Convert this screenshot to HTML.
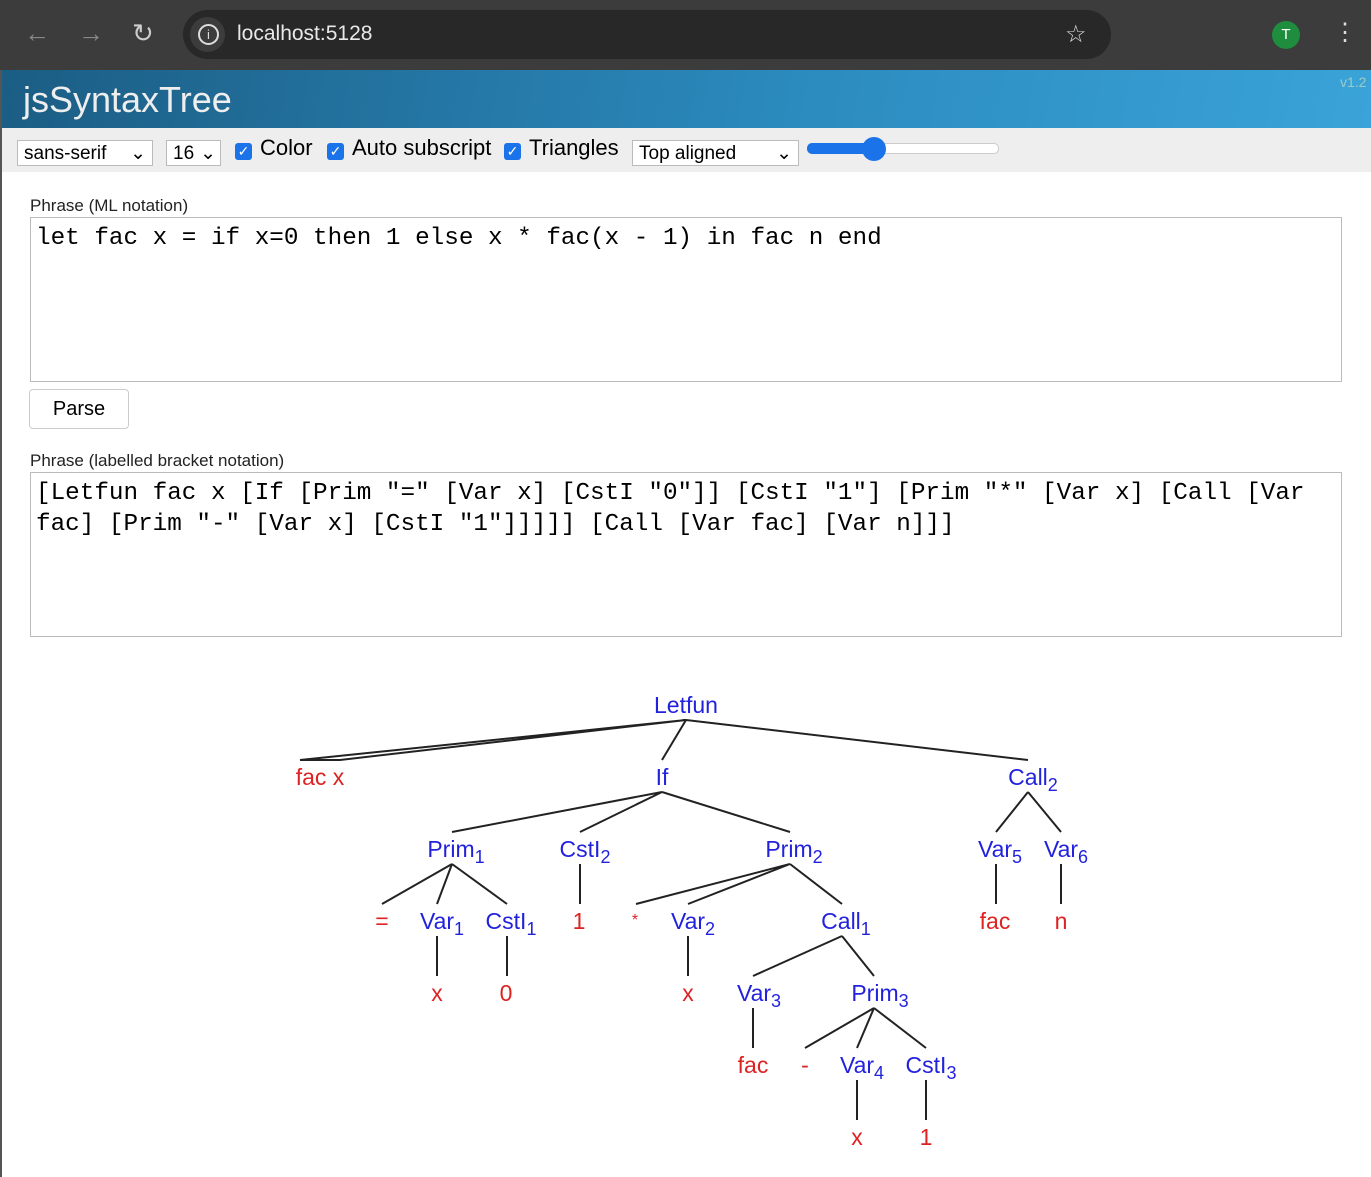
<!DOCTYPE html>
<html><head><meta charset="utf-8"><style>
body{margin:0;width:1371px;height:1177px;overflow:hidden;background:#fff;font-family:"Liberation Sans",sans-serif;position:relative}
.a{position:absolute}
.ta{position:absolute;left:30px;width:1312px;height:165px;border:1px solid #bbb;box-sizing:border-box;font-family:"Liberation Mono",monospace;font-size:24.3px;line-height:31px;padding:5px 5px;white-space:pre;color:#000}
.lbl{position:absolute;left:30px;font-size:17px;color:#222}
.cb{display:inline-block;width:17px;height:17px;background:#1a73e8;border-radius:3px;color:#fff;font-size:14px;line-height:17px;text-align:center;vertical-align:-1px;margin-right:8px}
.sel{position:absolute;top:140px;height:26px;border:1px solid #bbb;background:#fff;font-size:19px;line-height:26px;padding-left:6px;box-sizing:border-box}
</style></head><body>
<div class="a" style="left:0;top:0;width:1371px;height:70px;background:#3c3c3c"></div>
<div class="a" style="left:183px;top:10px;width:928px;height:49px;background:#282828;border-radius:25px"></div>
<div class="a" style="left:190px;top:17px;width:35px;height:35px;border-radius:18px;background:#3c3c3c"></div>
<div class="a" style="left:198px;top:24px;width:17px;height:17px;border:2px solid #ddd;border-radius:50%;color:#ddd;font-size:13px;text-align:center;line-height:17px;box-sizing:content-box">i</div>
<div class="a" style="left:237px;top:22px;color:#e8e8e8;font-size:21px">localhost:5128</div>
<div class="a" style="left:24px;top:18px;color:#888;font-size:26px">←</div>
<div class="a" style="left:78px;top:18px;color:#888;font-size:26px">→</div>
<div class="a" style="left:132px;top:18px;color:#ccc;font-size:26px">↻</div>
<div class="a" style="left:1065px;top:20px;color:#ddd;font-size:24px">☆</div>
<div class="a" style="left:1272px;top:21px;width:28px;height:28px;border-radius:50%;background:#1e8e3e;color:#fff;font-size:15px;text-align:center;line-height:28px">T</div>
<div class="a" style="left:1333px;top:18px;color:#ddd;font-size:24px">⋮</div>
<div class="a" style="left:0;top:70px;width:1371px;height:58px;background:linear-gradient(100deg,#1b5d84,#2c8cc0 60%,#3aa3d8)"></div>
<div class="a" style="left:23px;top:79px;color:#eee;font-size:36px">jsSyntaxTree</div>
<div class="a" style="left:1340px;top:74px;color:#9cc;font-size:14px">v1.2</div>
<div class="a" style="left:0;top:128px;width:1371px;height:44px;background:#eee"></div>
<div class="sel" style="left:17px;width:136px">sans-serif <span style="float:right;margin-right:6px">⌄</span></div>
<div class="sel" style="left:166px;width:55px">16<span style="float:right;margin-right:4px">⌄</span></div>
<div class="a" style="left:235px;top:135px;font-size:22px"><span class="cb">✓</span>Color</div>
<div class="a" style="left:327px;top:135px;font-size:22px"><span class="cb">✓</span>Auto subscript</div>
<div class="a" style="left:504px;top:135px;font-size:22px"><span class="cb">✓</span>Triangles</div>
<div class="sel" style="left:632px;width:167px;top:140px">Top aligned<span style="float:right;margin-right:6px">⌄</span></div>
<div class="a" style="left:807px;top:143px;width:190px;height:9px;border:1px solid #ccc;border-radius:5px;background:#fff"></div>
<div class="a" style="left:807px;top:143px;width:66px;height:11px;border-radius:5px;background:#1a73e8"></div>
<div class="a" style="left:862px;top:137px;width:24px;height:24px;border-radius:50%;background:#1a73e8"></div>
<div class="lbl" style="top:196px">Phrase (ML notation)</div>
<div class="ta" style="top:217px">let fac x = if x=0 then 1 else x * fac(x - 1) in fac n end</div>
<div class="a" style="left:29px;top:389px;width:100px;height:40px;border:1px solid #ccc;border-radius:4px;box-sizing:border-box;text-align:center;line-height:38px;font-size:20px">Parse</div>
<div class="lbl" style="top:451px">Phrase (labelled bracket notation)</div>
<div class="ta" style="top:472px">[Letfun fac x [If [Prim "=" [Var x] [CstI "0"]] [CstI "1"] [Prim "*" [Var x] [Call [Var
fac] [Prim "-" [Var x] [CstI "1"]]]]] [Call [Var fac] [Var n]]]</div>
<svg class="a" style="left:0;top:0" width="1371" height="1177">
<g stroke="#222" stroke-width="2" fill="none">
<path d="M686 720L300 760L340 760Z"/>
<path d="M686 720L662 760M686 720L1028 760"/>
<path d="M662 792L452 832M662 792L580 832M662 792L790 832"/>
<path d="M1028 792L996 832M1028 792L1061 832"/>
<path d="M452 864L382 904M452 864L437 904M452 864L507 904M580 864V904"/>
<path d="M790 864L636 904M790 864L688 904M790 864L842 904"/>
<path d="M996 864V904M1061 864V904"/>
<path d="M437 936V976M507 936V976M688 936V976M842 936L753 976M842 936L874 976"/>
<path d="M753 1008V1048M874 1008L805 1048M874 1008L857 1048M874 1008L926 1048"/>
<path d="M857 1080V1120M926 1080V1120"/>
</g>
<g font-family="Liberation Sans,sans-serif" font-size="23" text-anchor="middle">
<g fill="#2222dd">
<text x="686" y="713">Letfun</text>
<text x="662" y="785">If</text>
<text x="1033" y="785">Call<tspan font-size="18" dy="6">2</tspan></text>
<text x="456" y="857">Prim<tspan font-size="18" dy="6">1</tspan></text>
<text x="585" y="857">CstI<tspan font-size="18" dy="6">2</tspan></text>
<text x="794" y="857">Prim<tspan font-size="18" dy="6">2</tspan></text>
<text x="1000" y="857">Var<tspan font-size="18" dy="6">5</tspan></text>
<text x="1066" y="857">Var<tspan font-size="18" dy="6">6</tspan></text>
<text x="442" y="929">Var<tspan font-size="18" dy="6">1</tspan></text>
<text x="511" y="929">CstI<tspan font-size="18" dy="6">1</tspan></text>
<text x="693" y="929">Var<tspan font-size="18" dy="6">2</tspan></text>
<text x="846" y="929">Call<tspan font-size="18" dy="6">1</tspan></text>
<text x="759" y="1001">Var<tspan font-size="18" dy="6">3</tspan></text>
<text x="880" y="1001">Prim<tspan font-size="18" dy="6">3</tspan></text>
<text x="862" y="1073">Var<tspan font-size="18" dy="6">4</tspan></text>
<text x="931" y="1073">CstI<tspan font-size="18" dy="6">3</tspan></text>
</g>
<g fill="#dd2222">
<text x="320" y="785">fac x</text>
<text x="382" y="929">=</text>
<text x="579" y="929">1</text>
<text x="635" y="925" font-size="16">*</text>
<text x="995" y="929">fac</text>
<text x="1061" y="929">n</text>
<text x="437" y="1001">x</text>
<text x="506" y="1001">0</text>
<text x="688" y="1001">x</text>
<text x="753" y="1073">fac</text>
<text x="805" y="1073">-</text>
<text x="857" y="1145">x</text>
<text x="926" y="1145">1</text>
</g>
</g>
</svg>
<div class="a" style="left:0;top:70px;width:2px;height:1107px;background:#555"></div>
</body></html>
